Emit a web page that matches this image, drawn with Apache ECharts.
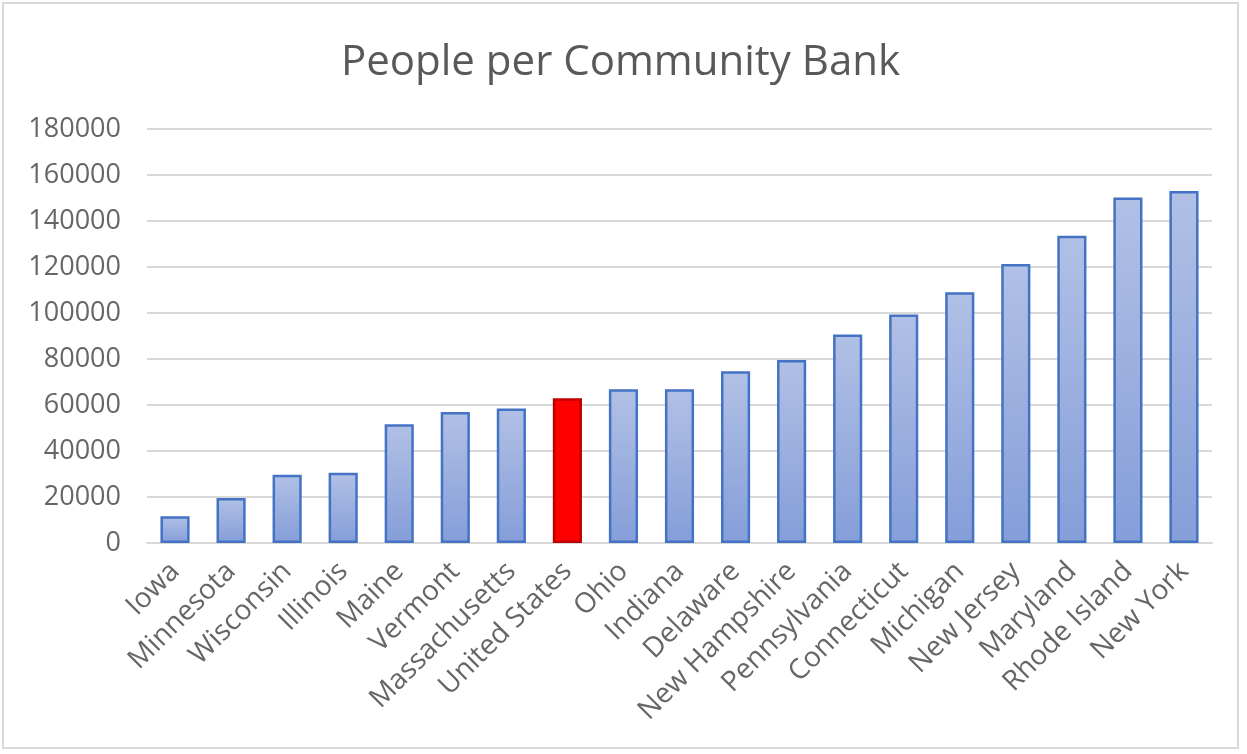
<!DOCTYPE html>
<html>
<head>
<meta charset="utf-8">
<script src="https://cdn.jsdelivr.net/npm/echarts@6/dist/echarts.min.js"></script>
<style>
  html, body { margin: 0; padding: 0; background: #fff; }
  #chart { position: absolute; left: 2px; top: 2px; width: 1237px; height: 747px; border: 2px solid #d9d9d9; box-sizing: border-box; }
</style>
</head>
<body>
<div id="chart"></div>
<script>
var states = ['Iowa', 'Minnesota', 'Wisconsin', 'Illinois', 'Maine', 'Vermont', 'Massachusetts',
  'United States', 'Ohio', 'Indiana', 'Delaware', 'New Hampshire', 'Pennsylvania', 'Connecticut',
  'Michigan', 'New Jersey', 'Maryland', 'Rhode Island', 'New York']
var peoplePerBank = [11600, 19600, 29700, 30500, 51600, 57000, 58500,
  62900, 66800, 66800, 74700, 79600, 90600, 99300,
  109000, 121300, 133600, 150200, 153000]
var highlight = 'United States'

var chart = echarts.init(document.getElementById('chart'))

var blueFill = new echarts.graphic.LinearGradient(0, 0, 0, 1, [
  { offset: 0, color: '#b1c0e5' },
  { offset: 1, color: '#859ed9' }
])

var barData = peoplePerBank.map(function(v, i) {
  if (states[i] === highlight) {
    return { value: v, itemStyle: { color: '#ff0000', borderColor: '#c00000' } }
  }
  return v
})

chart.setOption({
  animation: false,
  title: {
    text: 'People per Community Bank',
    left: 'center',
    top: 33,
    textStyle: {
      fontFamily: 'Open Sans',
      fontSize: 42,
      fontWeight: 'normal',
      color: '#595959'
    }
  },
  grid: {
    left: 143,
    right: 25,
    top: 125,
    bottom: 204
  },
  xAxis: {
    type: 'category',
    data: states,
    axisTick: { show: false },
    axisLine: { lineStyle: { color: '#d9d9d9', width: 2 } },
    axisLabel: {
      rotate: 45,
      interval: 0,
      margin: 24,
      fontFamily: 'Open Sans',
      fontSize: 28,
      color: '#666666'
    }
  },
  yAxis: {
    type: 'value',
    min: 0,
    max: 180000,
    interval: 20000,
    axisLine: { show: false },
    axisTick: { show: false },
    splitLine: { lineStyle: { color: '#d9d9d9', width: 2 } },
    axisLabel: {
      margin: 26,
      fontFamily: 'Open Sans',
      fontSize: 27,
      color: '#666666',
      formatter: function(v) { return String(v) }
    }
  },
  series: [{
    type: 'bar',
    data: barData,
    barWidth: '52%',
    itemStyle: {
      color: blueFill,
      borderColor: '#4472c4',
      borderWidth: 2.5
    }
  }]
})
</script>
</body>
</html>
